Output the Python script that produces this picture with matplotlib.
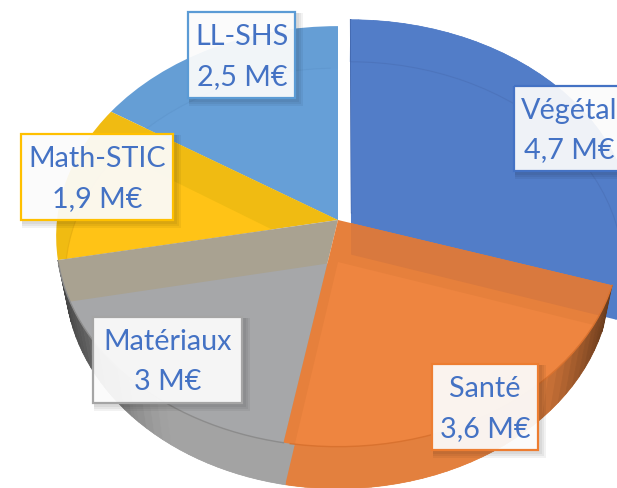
import numpy as np
import matplotlib
matplotlib.use("Agg")
import matplotlib.pyplot as plt
from matplotlib.colors import to_rgb
from matplotlib.patches import Polygon, Rectangle

plt.rcParams['font.family'] = ['Lato', 'DejaVu Sans']

categories = ['Végétal', 'Santé', 'Matériaux', 'Math-STIC', 'LL-SHS']
values = [4.7, 3.6, 3.0, 1.9, 2.5]
value_labels = ['4,7 M€', '3,6 M€', '3 M€', '1,9 M€', '2,5 M€']
explode = [0.06, 0, 0, 0, 0]

face_colors = ['#527DC8', '#EE8540', '#A6A7A9', '#FFC316', '#669FD7']
band_colors = ['#527DC8', '#E6803C', '#A9A291', '#F0BB12', '#659ED5']
wall_colors = ['#527DC8', '#E3803E', '#A3A3A3', '#D9A510', '#5A8FC4']
border_colors = ['#4472C4', '#ED7D31', '#A5A5A5', '#FFC000', '#5B9BD5']

# label boxes, pixels: left, top, right, bottom
boxes = [(514, 86, 640, 171), (432, 364, 538, 450), (93, 317, 242, 403),
         (21, 134, 173, 220), (188, 12, 295, 98)]
text_x = [569, 485, 168, 97, 242]

CX, CY = 338, 220
DEPTH = 42
R = 300


def project(poly, shift=0, a=281):
    # flat pie -> tilted pie in pixels, the front is nearer
    u = poly[:, 0] / R
    v = poly[:, 1] / R
    w = 1 + 0.078 * v
    return np.column_stack([CX + a * u / w, CY - 209 * v / w + shift])


def shade(color, f):
    return tuple(np.array(to_rgb(color)) * f)


fig = plt.figure(figsize=(6.17, 4.88), dpi=100)
ax = fig.add_axes([0, 0, 1, 1])

wedges, _ = ax.pie(values, explode=[e * R for e in explode], startangle=90,
                   counterclock=False, radius=R)
polys = [w.get_path().to_polygons()[0] for w in wedges]
for w in wedges:
    w.remove()

ax.set_xlim(0, 617)
ax.set_ylim(488, 0)
ax.set_aspect('auto')
ax.axis('off')

tops = [project(p) for p in polys]
lows = [project(p, DEPTH, 272) for p in polys]

# walls, only the front slices show one
for i in range(3):
    ax.add_patch(Polygon(lows[i], fc=wall_colors[i], ec='none', zorder=1))
    t, l = tops[i], lows[i]
    for k in range(len(t) - 1):
        if np.hypot(*(polys[i][k] - polys[i][-2])) < 100 or np.hypot(*(polys[i][k + 1] - polys[i][-2])) < 100:
            continue
        reach = abs(t[k, 0] - CX) / 283
        f = 1 - 0.62 * max(0, (reach - 0.62) / 0.38) ** 1.4
        if i == 0:
            f = 1
        quad = [t[k], t[k + 1], l[k + 1], l[k]]
        c = shade(wall_colors[i], f)
        ax.add_patch(Polygon(quad, fc=c, ec=c, lw=0.5, zorder=1))

# top faces, back ones first, Végétal under the translucent Santé
for i in [0, 4, 3, 2, 1]:
    top = Polygon(tops[i], fc=band_colors[i], ec='none', zorder=2)
    ax.add_patch(top)
    if i == 1:
        see = Polygon(lows[0], fc='#D9793E', ec='none', zorder=2)
        ax.add_patch(see)
        see.set_clip_path(top)
    inner = Polygon(lows[i], fc=face_colors[i], ec='none', zorder=2)
    ax.add_patch(inner)
    inner.set_clip_path(top)

# rim lines
rim_colors = ['#4A6FB5', '#D9722F', '#8C8C8C', '#E0A810', '#5E95CC']
for i in range(len(values)):
    arc = tops[i][1:-2]
    if i in (1, 2):
        ax.plot(arc[:, 0], arc[:, 1], color=rim_colors[i], lw=1, zorder=3)
    else:
        low = lows[i][1:-2]
        ln, = ax.plot(low[:, 0], low[:, 1], color=rim_colors[i], lw=0.8, alpha=0.6, zorder=3)
        ln.set_clip_path(Polygon(tops[i], transform=ax.transData))

# dark edge of the pulled out slice, under Santé
ax.plot(tops[0][[-2, -3], 0], tops[0][[-2, -3], 1], color='#3F63A8', lw=1, zorder=1.5)

# labels
for name, val, box, tx, ec in zip(categories, value_labels, boxes, text_x, border_colors):
    x0, y0, x1, y1 = box
    for s in [7, 5, 3]:
        ax.add_patch(Rectangle((x0 + 1, y0 + 1), x1 - x0 + s, y1 - y0 + s, fc='#000000',
                               ec='none', alpha=0.05, zorder=4))
    ax.add_patch(Rectangle((x0, y0), x1 - x0, y1 - y0, fc='white', ec='none', alpha=0.92, zorder=5))
    ax.add_patch(Rectangle((x0, y0), x1 - x0, y1 - y0, fc='none', ec=ec, lw=1.6, zorder=6))
    ax.text(tx, (y0 + y1) / 2 + 2, name + '\n' + val, ha='center', va='center',
            color='#4472C4', fontsize=20.7, linespacing=1.63, zorder=7)

fig.savefig('out.png', dpi=100)
